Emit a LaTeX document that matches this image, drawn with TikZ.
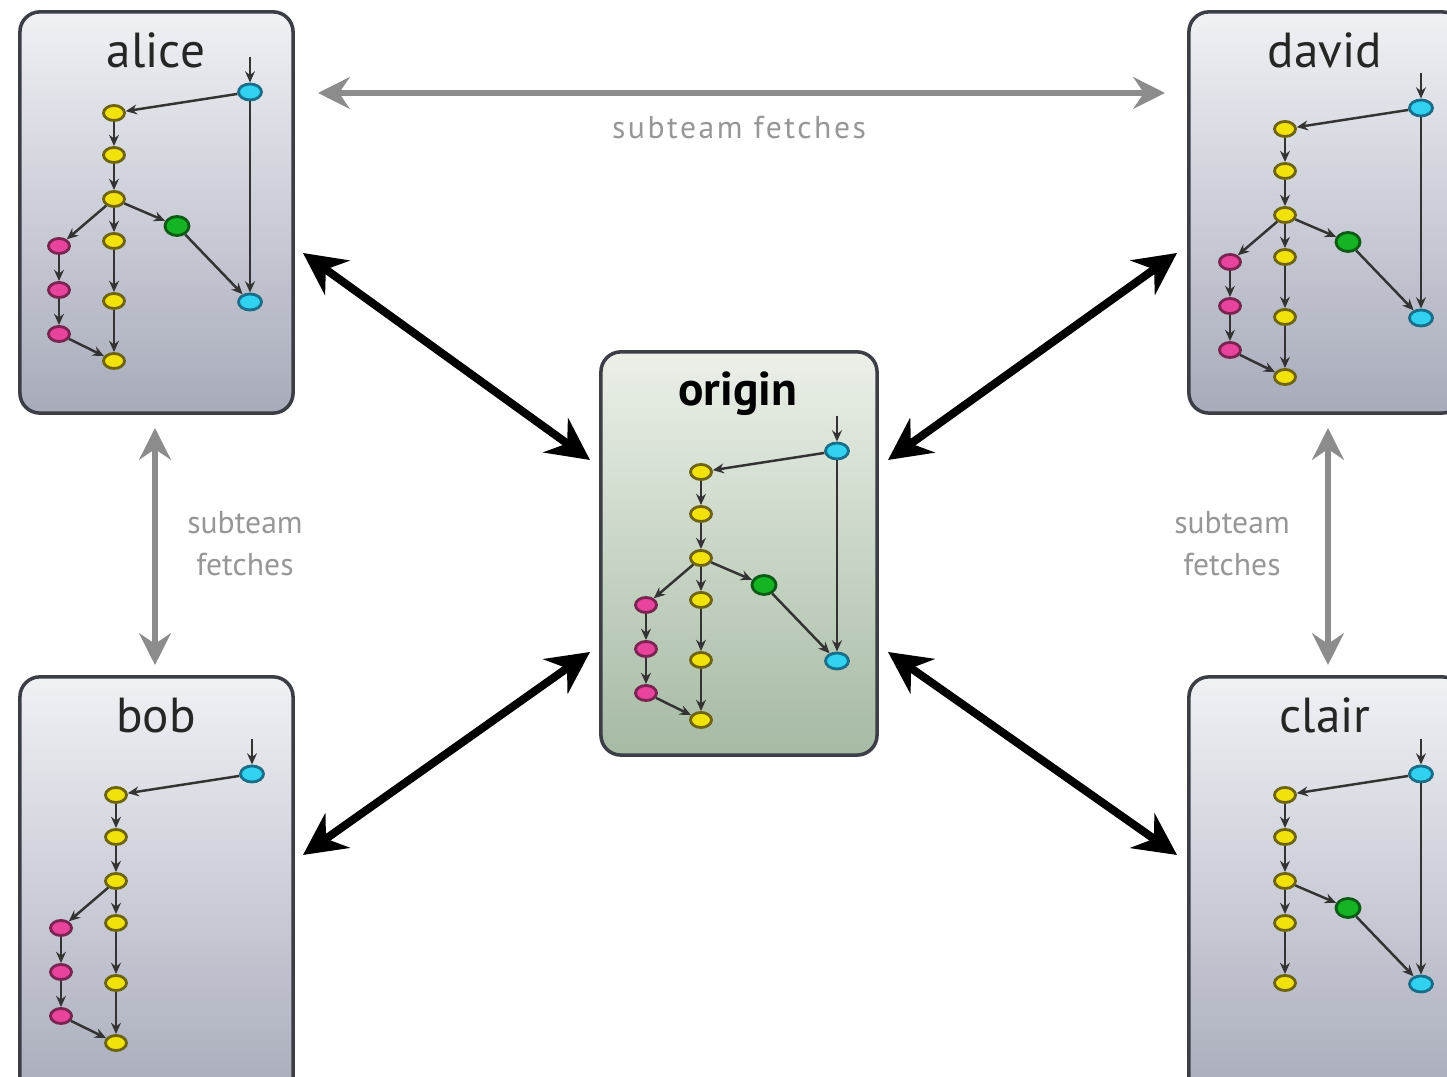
\documentclass[tikz,border=0pt]{standalone}
\usepackage{fontspec}
\setmainfont{PT Sans}
\newfontfamily\widesans[LetterSpace=8]{PT Sans}
\usetikzlibrary{shapes.geometric,arrows.meta}

\definecolor{cyel}{HTML}{F2E20C}
\definecolor{cyeld}{HTML}{6E6410}
\definecolor{cpink}{HTML}{E8449E}
\definecolor{cpinkd}{HTML}{7A2452}
\definecolor{cgreen}{HTML}{14B424}
\definecolor{cgreend}{HTML}{0C5A14}
\definecolor{ccyan}{HTML}{30D2F0}
\definecolor{ccyand}{HTML}{1A6E8A}
\definecolor{boxline}{HTML}{3C3E46}
\definecolor{repotop}{HTML}{F0F1F5}
\definecolor{repobot}{HTML}{A7ABBA}
\definecolor{origtop}{HTML}{EBF0E8}
\definecolor{origbot}{HTML}{A6BAA4}
\definecolor{fetchgray}{HTML}{8C8C8C}

\tikzset{
  repo/.style={draw=boxline, line width=1pt, rounded corners=0.2cm,
    top color=repotop, bottom color=repobot,
    minimum width=2.73cm, minimum height=4.01cm},
  central/.style={repo, top color=origtop, bottom color=origbot,
    minimum width=2.76cm, minimum height=4.03cm},
  reponame/.style={font=\fontsize{14}{16}\selectfont, text=black!85, anchor=base},
  commit/.style={ellipse, line width=0.8pt, inner sep=0pt,
    minimum width=0.21cm, minimum height=0.15cm},
  yelcommit/.style={commit, fill=cyel, draw=cyeld},
  pinkcommit/.style={commit, fill=cpink, draw=cpinkd},
  greencommit/.style={commit, fill=cgreen, draw=cgreend, minimum width=0.24cm, minimum height=0.19cm},
  cyancommit/.style={commit, fill=ccyan, draw=ccyand, minimum width=0.23cm, minimum height=0.16cm},
  parent/.style={-{Stealth[length=3.2pt,width=2.8pt]}, line width=0.7pt, draw=black!80},
  fetch/.style={{Stealth[length=9pt,width=9pt,inset=3pt]}-{Stealth[length=9pt,width=9pt,inset=3pt]},
    line width=1.7pt, draw=fetchgray},
  fetchlabel/.style={font=\fontsize{9}{12}\selectfont, text=fetchgray!90, align=center},
  sync/.style={{Stealth[length=12pt,width=12pt,inset=4pt]}-{Stealth[length=12pt,width=12pt,inset=4pt]},
    line width=2.3pt, draw=black}
}

% commit graph pieces, #1 = name prefix
\newcommand{\trunk}[1]{%
  \node[cyancommit] (#1c1) at (234,97) {};
  \node[yelcommit] (#1y1) at (98,118) {};
  \node[yelcommit] (#1y2) at (98,160) {};
  \node[yelcommit] (#1y3) at (98,204) {};
  \node[yelcommit] (#1y4) at (98,246) {};
  \node[yelcommit] (#1y5) at (98,306) {};
  \coordinate (#1in) at (234,62);
  \draw[parent] (#1in) -- (#1c1);
  \foreach \a/\b in {c1/y1,y1/y2,y2/y3,y3/y4,y4/y5} \draw[parent] (#1\a) -- (#1\b);
}
\newcommand{\topic}[1]{%
  \node[pinkcommit] (#1p1) at (43,251) {};
  \node[pinkcommit] (#1p2) at (43,295) {};
  \node[pinkcommit] (#1p3) at (43,339) {};
  \node[yelcommit] (#1y6) at (98,366) {};
  \foreach \a/\b in {y3/p1,p1/p2,p2/p3,p3/y6,y5/y6} \draw[parent] (#1\a) -- (#1\b);
}
\newcommand{\feature}[1]{%
  \node[greencommit] (#1g) at (161,231) {};
  \node[cyancommit] (#1c2) at (234,307) {};
  \foreach \a/\b in {y3/g,g/c2,c1/c2} \draw[parent] (#1\a) -- (#1\b);
}

\begin{document}
\begin{tikzpicture}[x=0.01cm, y=-0.01cm]
\useasboundingbox (0,0) rectangle (1447,1077);
\clip (0,0) rectangle (1447,1077);

% repositories
\node[repo] (alice) at (156.5,212.5) {};
\node[repo] (david) at (1325.5,212.5) {};
\node[repo, minimum height=4.3cm] (bob) at (156.5,892) {};
\node[repo, minimum height=4.3cm] (clair) at (1325.5,892) {};
\node[central] (origin) at (739,553.5) {};

\node[reponame] (alice-name) at (156,68) {alice};
\node[reponame] (david-name) at (1325,68) {david};
\node[reponame] (bob-name) at (156,733) {bob};
\node[reponame] (clair-name) at (1325,733) {clair};
\node[reponame, font=\fontsize{13.5}{16}\selectfont\bfseries, text=black] (origin-name) at (738,406) {origin};

% commit graphs
\begin{scope}[shift={(16,-5)}] \trunk{a} \topic{a} \feature{a} \end{scope}
\begin{scope}[shift={(1187,11)}] \trunk{d} \topic{d} \feature{d} \end{scope}
\begin{scope}[shift={(603,354)}] \trunk{o} \topic{o} \feature{o} \end{scope}
\begin{scope}[shift={(18,677)}] \trunk{b} \topic{b} \end{scope}
\begin{scope}[shift={(1187,677)}] \trunk{c} \feature{c} \end{scope}

% subteam fetches
\coordinate (ad-l) at (318,93);   \coordinate (ad-r) at (1165,93);
\coordinate (ab-t) at (155,428);  \coordinate (ab-b) at (155,665);
\coordinate (dc-t) at (1328,428); \coordinate (dc-b) at (1328,665);
\draw[fetch] (ad-l) -- (ad-r);
\draw[fetch] (ab-t) -- (ab-b);
\draw[fetch] (dc-t) -- (dc-b);
\node[fetchlabel, font=\fontsize{9}{12}\selectfont\widesans] (ad-label) at (739,128) {subteam fetches};
\node[fetchlabel] (ab-label) at (245,544) {subteam\\fetches};
\node[fetchlabel] (dc-label) at (1232,544) {subteam\\fetches};

% push / fetch with origin
\coordinate (ao-a) at (303,253);  \coordinate (ao-o) at (590,460);
\coordinate (bo-b) at (303,855);  \coordinate (bo-o) at (590,652);
\coordinate (do-d) at (1177,253); \coordinate (do-o) at (888,460);
\coordinate (co-c) at (1177,855); \coordinate (co-o) at (888,652);
\draw[sync] (ao-a) -- (ao-o);
\draw[sync] (bo-b) -- (bo-o);
\draw[sync] (do-d) -- (do-o);
\draw[sync] (co-c) -- (co-o);
\end{tikzpicture}
\end{document}
